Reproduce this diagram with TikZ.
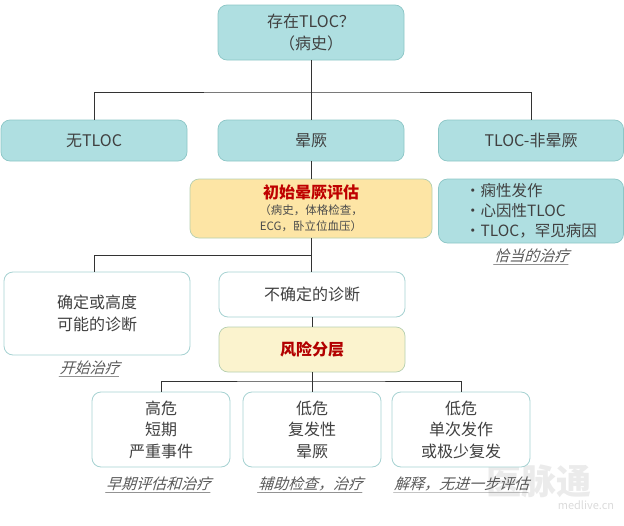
\documentclass[tikz,border=0pt]{standalone}
\usepackage{fontspec}
\setmainfont{Noto Sans CJK SC}
\begin{document}
\begin{tikzpicture}[x=1pt,y=-1pt,
  bx/.style={rounded corners=9pt,align=center,inner sep=0pt,text=black!75,font=\fontsize{16}{21.5}\selectfont},
  blue/.style={bx,draw=teal!45!white,fill=blueFill,line width=.7pt},
  whitebox/.style={bx,draw=teal!35!white,fill=white,line width=.8pt},
  yel/.style={bx,draw=yelDraw,fill=yelFill,line width=.7pt},
  conn/.style={draw=black!80,line width=.8pt},
  lab/.style={font=\fontsize{15}{18}\selectfont,text=black!65,inner sep=0pt,xslant=.3}]
\definecolor{blueFill}{HTML}{AFDFE1}
\definecolor{yelDraw}{HTML}{B5CFB0}
\definecolor{yelFill}{HTML}{FDE5A5}
\definecolor{paleYel}{HTML}{FBF3CE}
\useasboundingbox (0,0) rectangle (624,525);
\node[inner sep=0pt,text=black!8,font=\fontsize{35}{36}\selectfont\bfseries] (wm) at (539,481) {医脉通};
\node[inner sep=0pt,text=black!14,font=\itshape\fontsize{11}{12}\selectfont] (wm2) at (586,505) {medlive.cn};
\node[blue,minimum width=186pt,minimum height=55pt] (top) at (311,32.5) {存在TLOC？\\（病史）};
\node[blue,minimum width=186pt,minimum height=41pt] (wu) at (94,140.5) {无TLOC};
\node[blue,minimum width=186pt,minimum height=41pt] (yun) at (311,140.5) {晕厥};
\node[blue,minimum width=185pt,minimum height=41pt] (fei) at (531,140.5) {TLOC-非晕厥};
\node[yel,minimum width=242pt,minimum height=59pt,font=\fontsize{11.5}{16}\selectfont] (init) at (311,208.5) {\fontsize{16}{20}\selectfont\bfseries\color{red!75!black}初始晕厥评估\\\fontsize{11.5}{16}\selectfont\color{black!70}（病史，体格检查，\\\fontsize{11.5}{16}\selectfont\color{black!70}ECG，卧立位血压）};
\node[blue,minimum width=185pt,minimum height=64pt,align=left,font=\fontsize{15.5}{20}\selectfont] (list) at (531,211) {·痫性发作\\·心因性TLOC\\·TLOC，罕见病因};
\node[lab] (qia) at (533,257) {\underline{恰当的治疗}};
\node[whitebox,minimum width=186pt,minimum height=83pt] (que) at (97,313.5) {确定或高度\\可能的诊断};
\node[whitebox,minimum width=186pt,minimum height=45pt] (buque) at (312,294.5) {不确定的诊断};
\node[yel,fill=paleYel,minimum width=186pt,minimum height=45pt,text=red!70!black,font=\fontsize{16}{20}\selectfont\bfseries] (risk) at (312,349.5) {风险分层};
\node[lab] (kai) at (91,369) {\underline{开始治疗}};
\node[whitebox,minimum width=138pt,minimum height=75pt] (gao) at (161,429.5) {高危\\短期\\严重事件};
\node[whitebox,minimum width=138pt,minimum height=75pt] (di1) at (312,429.5) {低危\\复发性\\晕厥};
\node[whitebox,minimum width=138pt,minimum height=75pt] (di2) at (461,429.5) {低危\\单次发作\\或极少复发};
\node[lab] (l1) at (160,485) {\underline{早期评估和治疗}};
\node[lab] (l2) at (312,485) {\underline{辅助检查，治疗}};
\node[lab] (l3) at (463,485) {\underline{解释，无进一步评估}};
\coordinate (j1) at (311,92);
\coordinate (j2) at (311,255);
\coordinate (j3) at (311,381);
\draw[conn] (top.south) -- (yun.north);
\draw[conn] (wu.north) |- (j1) -| (fei.north);
\draw[conn] (yun.south) -- (init.north);
\draw[conn] (init.south) -- (j2 |- buque.north);
\draw[conn] (j2) -| ([xshift=-3pt]que.north);
\draw[conn] (buque.south) -- (risk.north);
\draw[conn] (risk.south) -- (di1.north);
\draw[conn] (gao.north) |- (j3) -| (di2.north);
\end{tikzpicture}
\end{document}
